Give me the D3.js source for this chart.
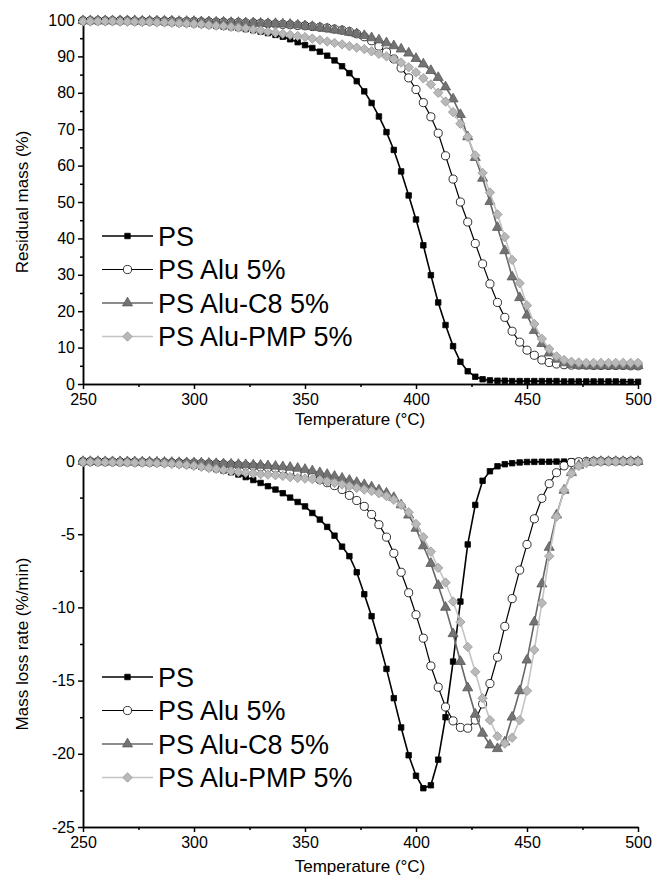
<!DOCTYPE html>
<html>
<head>
<meta charset="utf-8">
<title>PS thermogravimetry</title>
<script src="https://cdn.jsdelivr.net/npm/d3@7"></script>
<style>
  body { margin: 0; background: #fff; }
  svg { display: block; font-family: "Liberation Sans", Arial, sans-serif; }
  .axis path, .axis line { stroke: #000; stroke-width: 1.5; }
  .axis text { font-size: 16px; fill: #000; }
  .title { font-size: 17px; fill: #000; }
  .legend text { font-size: 27px; fill: #000; }
</style>
</head>
<body>
<svg id="chart" width="665" height="880"></svg>
<script>
// temperature of every recorded point (°C)
const temps = [
  250, 253.3, 256.7, 260, 263.3, 266.7, 270, 273.3, 276.7, 280,
  283.3, 286.7, 290, 293.3, 296.7, 300, 303.3, 306.7, 310, 313.3,
  316.7, 320, 323.3, 326.7, 330, 333.3, 336.7, 340, 343.3, 346.7,
  350, 353.3, 356.7, 360, 363.3, 366.7, 370, 373.3, 376.7, 380,
  383.3, 386.7, 390, 393.3, 396.7, 400, 403.3, 406.7, 410, 413.3,
  416.7, 420, 423.3, 426.7, 430, 433.3, 436.7, 440, 443.3, 446.7,
  450, 453.3, 456.7, 460, 463.3, 466.7, 470, 473.3, 476.7, 480,
  483.3, 486.7, 490, 493.3, 496.7, 500
];

// residual mass (%)
const massPS = [
  99.8, 99.8, 99.8, 99.8, 99.7, 99.7, 99.7, 99.6, 99.6, 99.5,
  99.4, 99.3, 99.2, 99.1, 99.0, 98.9, 98.8, 98.6, 98.4, 98.2,
  98.0, 97.8, 97.5, 97.2, 96.8, 96.4, 95.9, 95.4, 94.7, 93.9,
  93.1, 92.3, 91.3, 90.2, 88.9, 87.3, 85.4, 83.2, 80.4, 77.2,
  73.5, 69.2, 64.3, 58.4, 51.8, 45.2, 38.1, 29.9, 22.4, 16.2,
  10.4, 6.1, 3.5, 2.0, 1.3, 1.0, 0.9, 0.9, 0.8, 0.8,
  0.8, 0.8, 0.8, 0.8, 0.8, 0.7, 0.7, 0.7, 0.7, 0.7,
  0.7, 0.7, 0.7, 0.6, 0.6, 0.6
];
const massAlu = [
  99.8, 99.8, 99.8, 99.8, 99.8, 99.8, 99.8, 99.7, 99.7, 99.7,
  99.7, 99.7, 99.7, 99.6, 99.6, 99.6, 99.5, 99.5, 99.4, 99.4,
  99.3, 99.3, 99.2, 99.2, 99.1, 99.0, 98.9, 98.8, 98.7, 98.5,
  98.4, 98.2, 98.0, 97.8, 97.5, 97.2, 96.8, 96.2, 95.4, 94.3,
  92.8, 91.2, 89.3, 86.8, 84.1, 80.9, 77.3, 73.4, 68.9, 62.7,
  56.3, 50.0, 44.5, 38.6, 33.0, 27.5, 22.4, 18.3, 14.5, 11.5,
  9.3, 7.9, 6.6, 5.9, 5.5, 5.3, 5.2, 5.2, 5.2, 5.1,
  5.1, 5.1, 5.1, 5.1, 5.0, 5.0
];
const massC8 = [
  99.8, 99.8, 99.8, 99.8, 99.8, 99.8, 99.8, 99.8, 99.7, 99.7,
  99.7, 99.7, 99.7, 99.6, 99.6, 99.6, 99.5, 99.5, 99.4, 99.4,
  99.3, 99.3, 99.2, 99.2, 99.1, 99.0, 99.0, 98.9, 98.8, 98.6,
  98.4, 98.2, 97.9, 97.6, 97.3, 97.0, 96.6, 96.2, 95.7, 95.1,
  94.5, 93.7, 92.9, 92.0, 90.9, 89.4, 87.9, 86.1, 84.2, 81.6,
  78.3, 74.0, 67.9, 62.2, 56.5, 50.1, 43.0, 36.6, 29.4, 23.7,
  18.9, 14.7, 11.1, 8.5, 6.8, 5.8, 5.3, 5.1, 5.0, 5.0,
  5.0, 5.0, 5.0, 5.0, 5.0, 5.0
];
const massPMP = [
  99.6, 99.6, 99.6, 99.6, 99.6, 99.5, 99.5, 99.5, 99.4, 99.4,
  99.3, 99.3, 99.2, 99.1, 99.0, 98.9, 98.8, 98.6, 98.4, 98.3,
  98.1, 97.9, 97.7, 97.4, 97.1, 96.8, 96.5, 96.2, 95.9, 95.6,
  95.3, 94.9, 94.5, 94.1, 93.7, 93.3, 92.8, 92.4, 92.0, 91.4,
  90.7, 90.0, 89.2, 88.3, 87.0, 85.6, 84.0, 82.3, 80.0, 77.6,
  74.7, 71.5, 67.9, 62.8, 58.0, 52.6, 46.6, 40.4, 34.1, 27.7,
  21.6, 16.5, 12.4, 9.6, 7.6, 6.6, 6.1, 5.9, 5.8, 5.8,
  5.8, 5.8, 5.8, 5.8, 5.8, 5.8
];

// mass loss rate (%/min)
const ratePS = [
  0, 0, -0.01, -0.02, -0.03, -0.04, -0.05, -0.06, -0.08, -0.1,
  -0.12, -0.15, -0.18, -0.22, -0.27, -0.32, -0.39, -0.47, -0.56, -0.65,
  -0.77, -0.92, -1.1, -1.3, -1.5, -1.72, -1.95, -2.2, -2.5, -2.8,
  -3.1, -3.55, -4.0, -4.5, -5.1, -5.85, -6.5, -7.6, -9.1, -10.6,
  -12.3, -14.2, -16.2, -18.2, -20.1, -21.5, -22.35, -22.15, -20.4, -17.5,
  -13.7, -9.6, -5.7, -3.0, -1.35, -0.7, -0.36, -0.22, -0.15, -0.1,
  -0.07, -0.06, -0.05, -0.05, -0.04, -0.04, -0.03, -0.03, -0.02, -0.02,
  -0.02, -0.01, -0.01, -0.01, 0, 0
];
const rateAlu = [
  -0.05, -0.05, -0.05, -0.06, -0.06, -0.07, -0.07, -0.08, -0.08, -0.09,
  -0.1, -0.11, -0.12, -0.13, -0.14, -0.15, -0.17, -0.19, -0.21, -0.23,
  -0.26, -0.29, -0.32, -0.36, -0.4, -0.45, -0.5, -0.57, -0.67, -0.8,
  -0.95, -1.1, -1.28, -1.48, -1.68, -1.95, -2.35, -2.7, -3.1, -3.65,
  -4.35, -5.2, -6.3, -7.6, -9.0, -10.5, -12.1, -14.0, -15.45, -16.8,
  -17.75, -18.2, -18.25, -17.7, -16.6, -15.2, -13.4, -11.3, -9.4, -7.45,
  -5.7, -3.95, -2.55, -1.55, -0.8, -0.33, -0.1, -0.05, -0.03, -0.02,
  -0.02, -0.02, -0.02, -0.02, -0.02, -0.02
];
const rateC8 = [
  -0.04, -0.04, -0.04, -0.05, -0.05, -0.05, -0.06, -0.06, -0.07, -0.07,
  -0.08, -0.09, -0.1, -0.11, -0.12, -0.13, -0.14, -0.16, -0.18, -0.2,
  -0.22, -0.24, -0.26, -0.28, -0.3, -0.33, -0.36, -0.4, -0.44, -0.5,
  -0.58, -0.68, -0.8, -0.92, -1.05, -1.18, -1.32, -1.47, -1.62, -1.78,
  -1.98, -2.2, -2.5, -3.0, -3.7, -4.6, -5.8, -7.0, -8.5, -10.0,
  -11.8, -13.7, -15.5, -17.3, -18.6, -19.4, -19.65, -19.2, -17.5, -15.7,
  -13.6, -11.0, -8.4, -5.9, -3.7, -2.0, -0.8, -0.3, -0.1, -0.05,
  -0.04, -0.04, -0.04, -0.04, -0.04, -0.04
];
const ratePMP = [
  -0.08, -0.08, -0.09, -0.09, -0.1, -0.1, -0.11, -0.12, -0.13, -0.14,
  -0.16, -0.18, -0.2, -0.24, -0.28, -0.33, -0.4, -0.48, -0.55, -0.62,
  -0.7, -0.76, -0.8, -0.85, -0.9, -0.93, -0.97, -1.02, -1.1, -1.16,
  -1.2, -1.24, -1.3, -1.4, -1.5, -1.6, -1.72, -1.84, -1.95, -2.05,
  -2.2, -2.4, -2.65, -3.0, -3.5, -4.3, -5.2, -6.2, -7.3, -8.3,
  -9.6, -11.0, -12.7, -14.4, -16.2, -17.7, -18.8, -19.3, -18.9, -17.7,
  -15.7, -12.9, -9.7, -6.5, -3.8, -2.0, -0.85, -0.35, -0.15, -0.08,
  -0.06, -0.05, -0.05, -0.05, -0.05, -0.05
];

const seriesNames = ["PS", "PS Alu 5%", "PS Alu-C8 5%", "PS Alu-PMP 5%"];
const xTicks = [250, 300, 350, 400, 450, 500];
const xMinor = [275, 325, 375, 425, 475];
const massTicks = [0, 10, 20, 30, 40, 50, 60, 70, 80, 90, 100];
const massMinor = [5, 15, 25, 35, 45, 55, 65, 75, 85, 95];
const rateTicks = [0, -5, -10, -15, -20, -25];
const rateMinor = [-2.5, -7.5, -12.5, -17.5, -22.5];

// look of each series
const styles = [
  { line: "#000", lw: 1.6, symbol: d3.symbolSquare, size: 30, fill: "#000", stroke: "#000", rot: 0 },
  { line: "#000", lw: 1.2, symbol: d3.symbolCircle, size: 52, fill: "#fff", stroke: "#000", rot: 0 },
  { line: "#666", lw: 1.6, symbol: d3.symbolTriangle, size: 44, fill: "#737373", stroke: "#595959", rot: 0 },
  { line: "#c4c4c4", lw: 1.6, symbol: d3.symbolSquare, size: 44, fill: "#b9b9b9", stroke: "#999", rot: 45 }
];

// plain hyphen for negatives, as in the original figure
const fmt = function(d) { return String(d); };

const svg = d3.select("#chart");
const x = d3.scaleLinear().domain([250, 500]).range([83, 638]);

function drawPanel(p) {
  const y = d3.scaleLinear().domain(p.domain).range(p.range);
  const g = svg.append("g");
  const bottom = p.range[0];

  // axes
  g.append("g").attr("class", "axis")
    .attr("transform", "translate(0," + bottom + ")")
    .call(d3.axisBottom(x).tickValues(xTicks).tickSize(5).tickSizeOuter(0).tickPadding(p.xPad).tickFormat(fmt));
  g.append("g").attr("class", "axis")
    .attr("transform", "translate(0," + bottom + ")")
    .call(d3.axisBottom(x).tickValues(xMinor).tickSize(3).tickSizeOuter(0).tickFormat(""));
  g.append("g").attr("class", "axis")
    .attr("transform", "translate(83,0)")
    .call(d3.axisLeft(y).tickValues(p.ticks).tickSize(5).tickSizeOuter(0).tickPadding(3).tickFormat(fmt));
  g.append("g").attr("class", "axis")
    .attr("transform", "translate(83,0)")
    .call(d3.axisLeft(y).tickValues(p.minor).tickSize(3).tickSizeOuter(0).tickFormat(""));

  g.append("text").attr("class", "title")
    .attr("x", 360).attr("y", bottom + p.titleGap)
    .attr("text-anchor", "middle")
    .text("Temperature (°C)");
  g.append("text").attr("class", "title")
    .attr("transform", "translate(28," + ((p.range[0] + p.range[1]) / 2) + ") rotate(-90)")
    .attr("text-anchor", "middle")
    .text(p.ylabel);

  // curves
  p.series.forEach(function(values, i) {
    const s = styles[i];
    const pts = temps.map(function(t, j) { return [t, values[j]]; });
    g.append("path")
      .datum(pts)
      .attr("fill", "none")
      .attr("stroke", s.line)
      .attr("stroke-width", s.lw)
      .attr("d", d3.line().x(function(d) { return x(d[0]); }).y(function(d) { return y(d[1]); }));
    g.append("g").selectAll("path")
      .data(pts)
      .enter().append("path")
        .attr("d", d3.symbol().type(s.symbol).size(s.size))
        .attr("transform", function(d) {
          return "translate(" + x(d[0]) + "," + y(d[1]) + ") rotate(" + s.rot + ")";
        })
        .attr("fill", s.fill)
        .attr("stroke", s.stroke)
        .attr("stroke-width", 0.8);
  });

  // legend
  const legend = g.append("g").attr("class", "legend");
  seriesNames.forEach(function(name, i) {
    const s = styles[i];
    const ly = p.legendTop + i * 33.5;
    legend.append("line")
      .attr("x1", 102).attr("x2", 153).attr("y1", ly).attr("y2", ly)
      .attr("stroke", s.line).attr("stroke-width", s.lw);
    legend.append("path")
      .attr("d", d3.symbol().type(s.symbol).size(s.size))
      .attr("transform", "translate(127.5," + ly + ") rotate(" + s.rot + ")")
      .attr("fill", s.fill).attr("stroke", s.stroke).attr("stroke-width", 0.8);
    legend.append("text")
      .attr("x", 158).attr("y", ly + 9.5)
      .text(name);
  });
}

drawPanel({
  domain: [0, 100], range: [384, 20],
  ticks: massTicks, minor: massMinor,
  ylabel: "Residual mass (%)",
  series: [massPS, massAlu, massC8, massPMP],
  legendTop: 236, xPad: 5, titleGap: 41
});

drawPanel({
  domain: [-25, 0], range: [827, 461],
  ticks: rateTicks, minor: rateMinor,
  ylabel: "Mass loss rate (%/min)",
  series: [ratePS, rateAlu, rateC8, ratePMP],
  legendTop: 677, xPad: 5, titleGap: 45
});
</script>
</body>
</html>
